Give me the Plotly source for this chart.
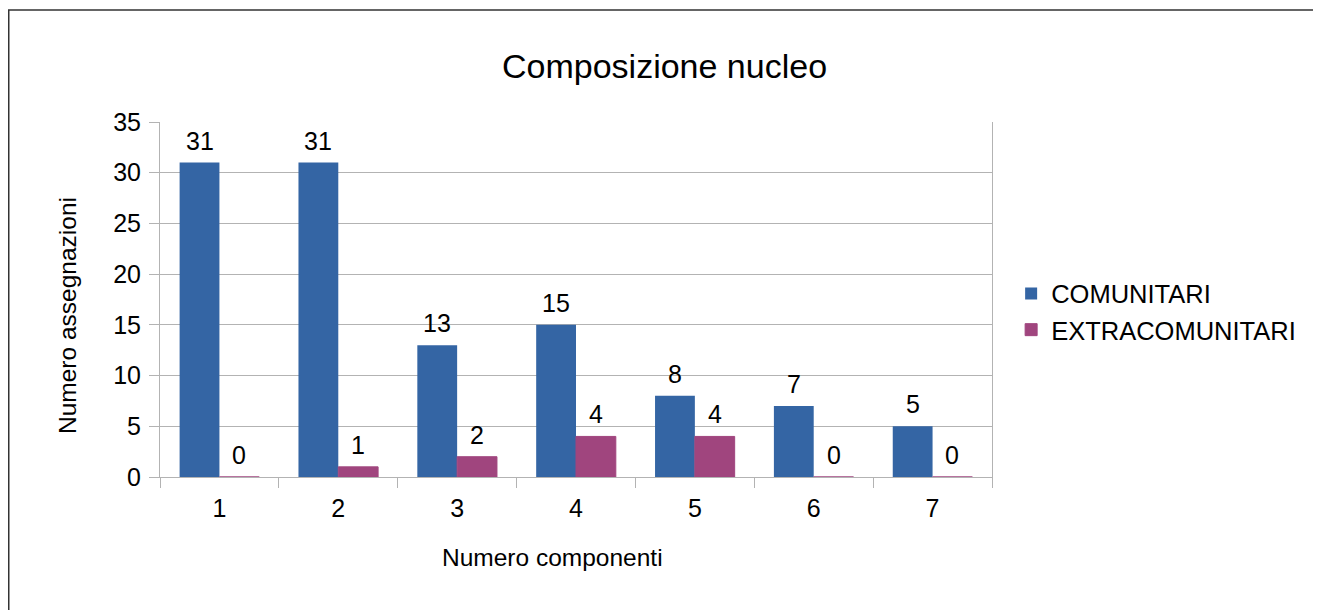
import plotly.graph_objects as go

componenti = ["1", "2", "3", "4", "5", "6", "7"]
comunitari = [31, 31, 13, 15, 8, 7, 5]
extracomunitari = [0, 1, 2, 4, 4, 0, 0]

BLUE = "#3465a4"
PURPLE = "#a0457e"
FONT = "Liberation Sans, Arial, sans-serif"

# page body has an 8px margin, so the figure is shifted by 8px
L, T, PW, PH = 152, 114, 832, 355

fig = go.Figure()
fig.add_trace(go.Bar(
    x=componenti, y=comunitari, name="COMUNITARI",
    marker=dict(color=BLUE, line=dict(width=0)),
))
fig.add_trace(go.Bar(
    x=componenti, y=extracomunitari, name="EXTRACOMUNITARI",
    marker=dict(color=PURPLE, line=dict(color=PURPLE, width=1)),
))

# value labels above each bar (x given as category index)
half = PW / 7 * (1 - 0.33) / 4
for vals, shift in [(comunitari, -half), (extracomunitari, half)]:
    for i, v in enumerate(vals):
        fig.add_annotation(x=i, y=v, text=str(v), showarrow=False,
                           xshift=shift, yshift=6, yanchor="bottom",
                           font=dict(size=25, color="black"))

fig.update_layout(
    width=1321, height=610,
    margin=dict(l=L, r=1321 - L - PW, t=T, b=610 - T - PH),
    plot_bgcolor="white", paper_bgcolor="white",
    font=dict(family=FONT, color="black"),
    barmode="group", bargap=0.33, bargroupgap=0,
    title=dict(text="Composizione nucleo", x=0.497, xref="container", xanchor="center",
               y=0.905, yref="container", yanchor="middle",
               font=dict(size=34, color="black")),
    legend=dict(x=1.023, y=0.465, xanchor="left", yanchor="middle",
                font=dict(size=25.5), itemwidth=30, tracegroupgap=4,
                bgcolor="rgba(0,0,0,0)"),
)

fig.update_xaxes(
    type="category", tickson="boundaries", showgrid=False,
    range=[-0.5, len(componenti) - 0.5],
    ticks="outside", ticklen=10, tickcolor="#b3b3b3",
    showline=True, linecolor="#b3b3b3", mirror=False,
    tickfont=dict(size=25), ticklabelstandoff=9,
)
fig.update_yaxes(
    range=[0, 35], dtick=5, showgrid=True, gridcolor="#b3b3b3",
    ticks="outside", ticklen=10, tickcolor="#b3b3b3",
    showline=True, linecolor="#b3b3b3", mirror=True,
    tickfont=dict(size=25), ticklabelstandoff=3, zeroline=False,
)

fig.add_annotation(text="Numero componenti", xref="paper", yref="paper",
                   x=(552 - 160) / PW, y=(477 - 557) / PH, showarrow=False,
                   font=dict(size=24.5), xanchor="center", yanchor="middle")
fig.add_annotation(text="Numero assegnazioni", xref="paper", yref="paper",
                   x=(67 - 160) / PW, y=(477 - 316) / PH, showarrow=False,
                   textangle=-90, font=dict(size=24.5), xanchor="center", yanchor="middle")

# outer frame of the chart
fig.add_shape(type="rect", xref="paper", yref="paper",
              x0=(0.75 - L) / PW, x1=(1340 - L) / PW,
              y0=(T + PH - 640) / PH, y1=(T + PH - 2) / PH,
              line=dict(color="#333333", width=1.5), layer="below")

fig.write_html("out.html")
